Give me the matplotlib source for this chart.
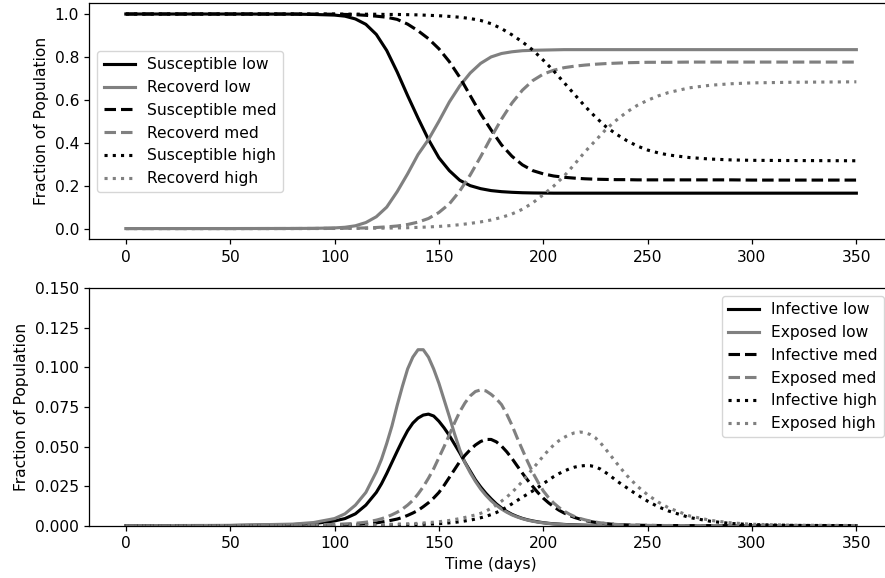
import matplotlib
matplotlib.use("Agg")
import matplotlib.pyplot as plt

# time grid (days) for the top panel
days = [0, 50, 80, 90,
        100, 105, 110, 115, 120, 125, 130, 135, 140, 145,
        150, 155, 160, 165, 170, 175, 180, 185, 190, 195,
        200, 205, 210, 215, 220, 225, 230, 235, 240, 245,
        250, 255, 260,
        270, 280, 290, 300, 320, 350]

# top panel: susceptible / recovered
sus_low = [1.0, 1.0, 0.9995, 0.998,
           0.995, 0.99, 0.977, 0.952, 0.905, 0.83, 0.73, 0.62, 0.515, 0.415,
           0.33, 0.27, 0.225, 0.20, 0.186, 0.177, 0.172, 0.169, 0.167, 0.166,
           0.1655, 0.165, 0.165, 0.165, 0.165, 0.165, 0.165, 0.165, 0.165, 0.165,
           0.165, 0.165, 0.165,
           0.165, 0.165, 0.165, 0.165, 0.165, 0.165]
rec_low = [0.0, 0.0001, 0.0005, 0.001,
           0.003, 0.006, 0.013, 0.028, 0.055, 0.10, 0.172, 0.255, 0.345, 0.415,
           0.50, 0.59, 0.665, 0.725, 0.77, 0.80, 0.816, 0.824, 0.829, 0.831,
           0.832, 0.833, 0.834, 0.834, 0.834, 0.834, 0.834, 0.834, 0.834, 0.834,
           0.834, 0.834, 0.834,
           0.834, 0.834, 0.834, 0.834, 0.834, 0.834]
sus_med = [1.0, 1.0, 1.0, 0.9995,
           0.999, 0.998, 0.997, 0.994, 0.99, 0.985, 0.975, 0.953, 0.922, 0.885,
           0.838, 0.778, 0.705, 0.62, 0.535, 0.46, 0.39, 0.337, 0.297, 0.27,
           0.255, 0.245, 0.239, 0.235, 0.232, 0.23, 0.229, 0.228, 0.228, 0.227,
           0.227, 0.227, 0.227,
           0.227, 0.227, 0.227, 0.226, 0.226, 0.226]
rec_med = [0.0, 0.0, 0.0002, 0.0004,
           0.001, 0.0015, 0.002, 0.003, 0.005, 0.008, 0.012, 0.019, 0.03, 0.047,
           0.075, 0.115, 0.175, 0.25, 0.335, 0.425, 0.51, 0.585, 0.645, 0.69,
           0.72, 0.738, 0.75, 0.757, 0.762, 0.766, 0.769, 0.771, 0.773, 0.774,
           0.775, 0.775, 0.775,
           0.776, 0.776, 0.776, 0.776, 0.776, 0.776]
sus_high = [1.0, 1.0, 1.0, 1.0,
            1.0, 0.9995, 0.9995, 0.999, 0.999, 0.998, 0.998, 0.997, 0.996, 0.994,
            0.992, 0.989, 0.985, 0.979, 0.97, 0.955, 0.932, 0.903, 0.87, 0.832,
            0.785, 0.735, 0.68, 0.625, 0.57, 0.52, 0.475, 0.44, 0.41, 0.385,
            0.366, 0.353, 0.343,
            0.331, 0.324, 0.32, 0.318, 0.317, 0.316]
rec_high = [0.0, 0.0, 0.0001, 0.0002,
            0.0005, 0.0007, 0.001, 0.0013, 0.0017, 0.0022, 0.003, 0.004, 0.0055, 0.0075,
            0.01, 0.0135, 0.018, 0.024, 0.031, 0.04, 0.052, 0.068, 0.09, 0.12,
            0.158, 0.198, 0.245, 0.30, 0.358, 0.41, 0.462, 0.505, 0.543, 0.574,
            0.598, 0.618, 0.634,
            0.656, 0.668, 0.675, 0.679, 0.682, 0.684]

# bottom panel uses a finer grid around the peaks
days_b = [0, 50, 80, 90, 100, 105, 110, 115,
          120, 122.5, 125, 127.5, 130, 132.5, 135, 137.5, 140, 142.5,
          145, 147.5, 150, 152.5, 155, 157.5, 160, 162.5, 165, 167.5,
          170, 172.5, 175, 177.5, 180, 182.5, 185, 187.5, 190, 192.5,
          195, 197.5, 200, 202.5, 205, 207.5, 210, 212.5, 215, 217.5,
          220, 222.5, 225, 227.5, 230, 232.5, 235, 237.5, 240,
          245, 250, 255, 260, 270, 280, 290, 300, 320, 350]

inf_low = [0.0, 0.0001, 0.0007, 0.0013, 0.003, 0.0045, 0.0075, 0.013,
           0.021, 0.0265, 0.033, 0.040, 0.047, 0.0538, 0.060, 0.0648, 0.068, 0.0699,
           0.0705, 0.0693, 0.066, 0.0618, 0.057, 0.0515, 0.046, 0.040, 0.0345, 0.029,
           0.0245, 0.0205, 0.017, 0.0138, 0.0112, 0.009, 0.0072, 0.0058, 0.0046, 0.0037,
           0.003, 0.0024, 0.0019, 0.0015, 0.0012, 0.001, 0.0008, 0.0006, 0.0005, 0.0004,
           0.0003, 0.0002, 0.0002, 0.0001, 0.0001, 0.0001, 0.0, 0.0, 0.0,
           0.0, 0.0, 0.0, 0.0, 0.0, 0.0, 0.0, 0.0, 0.0, 0.0]
exp_low = [0.0, 0.0002, 0.001, 0.002, 0.0045, 0.0075, 0.013, 0.021,
           0.034, 0.042, 0.052, 0.063, 0.076, 0.088, 0.099, 0.1065, 0.1112, 0.1112,
           0.1065, 0.099, 0.09, 0.0795, 0.069, 0.058, 0.048, 0.0398, 0.0335, 0.028,
           0.0232, 0.0192, 0.0158, 0.0129, 0.0105, 0.0085, 0.0068, 0.0055, 0.0044, 0.0035,
           0.0028, 0.0022, 0.0018, 0.0014, 0.0011, 0.0009, 0.0007, 0.0005, 0.0004, 0.0003,
           0.0003, 0.0002, 0.0002, 0.0001, 0.0001, 0.0001, 0.0, 0.0, 0.0,
           0.0, 0.0, 0.0, 0.0, 0.0, 0.0, 0.0, 0.0, 0.0, 0.0]
inf_med = [0.0, 0.0, 0.0001, 0.0002, 0.0004, 0.0006, 0.0008, 0.0012,
           0.0018, 0.0023, 0.0028, 0.0035, 0.0042, 0.0052, 0.0065, 0.008, 0.0097, 0.012,
           0.0145, 0.0175, 0.021, 0.0255, 0.0305, 0.0355, 0.0405, 0.0445, 0.048, 0.051,
           0.0532, 0.0545, 0.0545, 0.053, 0.0503, 0.0467, 0.0425, 0.0378, 0.0332, 0.0288,
           0.0247, 0.0208, 0.0174, 0.0145, 0.012, 0.0098, 0.008, 0.0065, 0.0052, 0.0042,
           0.0033, 0.0026, 0.0021, 0.0016, 0.0013, 0.001, 0.0008, 0.0006, 0.0005,
           0.0003, 0.0002, 0.0001, 0.0001, 0.0, 0.0, 0.0, 0.0, 0.0, 0.0]
exp_med = [0.0, 0.0, 0.0003, 0.0005, 0.0008, 0.0011, 0.0015, 0.0022,
           0.0035, 0.0044, 0.0055, 0.0069, 0.0085, 0.0105, 0.013, 0.016, 0.020, 0.0246,
           0.030, 0.036, 0.043, 0.050, 0.0575, 0.065, 0.072, 0.0776, 0.082, 0.0848,
           0.0858, 0.0852, 0.083, 0.0802, 0.0765, 0.0705, 0.0635, 0.0555, 0.048, 0.0405,
           0.0335, 0.0275, 0.022, 0.0178, 0.0143, 0.0115, 0.0092, 0.0073, 0.0058, 0.0046,
           0.0037, 0.0029, 0.0023, 0.0018, 0.0014, 0.0011, 0.0008, 0.0006, 0.0005,
           0.0003, 0.0002, 0.0001, 0.0001, 0.0, 0.0, 0.0, 0.0, 0.0, 0.0]
inf_high = [0.0, 0.0, 0.0, 0.0001, 0.0001, 0.0002, 0.0002, 0.0003,
            0.0003, 0.0004, 0.0004, 0.0005, 0.0005, 0.0006, 0.0006, 0.0007, 0.0008, 0.0009,
            0.001, 0.0011, 0.0013, 0.0015, 0.0018, 0.0021, 0.0025, 0.003, 0.0035, 0.0042,
            0.005, 0.0059, 0.007, 0.0083, 0.0099, 0.0117, 0.0138, 0.0159, 0.018, 0.020,
            0.022, 0.0242, 0.0265, 0.0288, 0.031, 0.0329, 0.0345, 0.0359, 0.037, 0.0377,
            0.038, 0.0379, 0.0372, 0.0357, 0.0335, 0.0311, 0.0285, 0.0262, 0.024,
            0.0195, 0.0155, 0.012, 0.0093, 0.0052, 0.0028, 0.0014, 0.0007, 0.0002, 0.0]
exp_high = [0.0, 0.0, 0.0001, 0.0001, 0.0002, 0.0003, 0.0004, 0.0005,
            0.0006, 0.0007, 0.0008, 0.0009, 0.001, 0.0011, 0.0012, 0.0013, 0.0015, 0.0017,
            0.002, 0.0022, 0.0025, 0.0029, 0.0033, 0.0039, 0.0045, 0.0052, 0.006, 0.0068,
            0.0078, 0.0092, 0.011, 0.0131, 0.0155, 0.0181, 0.021, 0.0244, 0.028, 0.032,
            0.036, 0.040, 0.044, 0.0477, 0.051, 0.0537, 0.0558, 0.0575, 0.0587, 0.0592,
            0.0588, 0.0576, 0.0555, 0.0522, 0.0482, 0.044, 0.0398, 0.0357, 0.0318,
            0.025, 0.0195, 0.015, 0.0113, 0.0062, 0.0034, 0.0018, 0.0009, 0.0003, 0.0001]

# original looks like a default-style figure scaled up a little
plt.rcParams['font.size'] = 11.2
plt.rcParams['lines.linewidth'] = 2.24
plt.rcParams['axes.linewidth'] = 0.9
plt.rcParams['xtick.major.size'] = 3.9
plt.rcParams['ytick.major.size'] = 3.9
plt.rcParams['xtick.major.width'] = 0.9
plt.rcParams['ytick.major.width'] = 0.9

fig = plt.figure(figsize=(8.85, 5.78), dpi=100)

# axes run slightly past the right edge, like the cropped original
ax1 = fig.add_axes([0.1009, 0.586, 0.908, 0.4083])
ax2 = fig.add_axes([0.1009, 0.0905, 0.908, 0.4107])

# top panel
ax1.plot(days, sus_low, color='k', ls='-', label='Susceptible low')
ax1.plot(days, rec_low, color='gray', ls='-', label='Recoverd low')
ax1.plot(days, sus_med, color='k', ls='--', label='Susceptible med')
ax1.plot(days, rec_med, color='gray', ls='--', label='Recoverd med')
ax1.plot(days, sus_high, color='k', ls=':', label='Susceptible high')
ax1.plot(days, rec_high, color='gray', ls=':', label='Recoverd high')
ax1.set_xlim(-17.5, 367.5)
ax1.set_ylim(-0.05, 1.05)
ax1.set_xticks(range(0, 351, 50))
ax1.set_ylabel('Fraction of Population')
ax1.legend(loc='center left', bbox_to_anchor=(97.3 / 885, 1 - 121.8 / 578),
           bbox_transform=fig.transFigure, borderaxespad=0)

# bottom panel
ax2.plot(days_b, inf_low, color='k', ls='-', label='Infective low')
ax2.plot(days_b, exp_low, color='gray', ls='-', label='Exposed low')
ax2.plot(days_b, inf_med, color='k', ls='--', label='Infective med')
ax2.plot(days_b, exp_med, color='gray', ls='--', label='Exposed med')
ax2.plot(days_b, inf_high, color='k', ls=':', label='Infective high')
ax2.plot(days_b, exp_high, color='gray', ls=':', label='Exposed high')
ax2.set_xlim(-17.5, 367.5)
ax2.set_ylim(0, 0.15)
ax2.set_xticks(range(0, 351, 50))
ax2.set_yticks([0, 0.025, 0.05, 0.075, 0.1, 0.125, 0.15])
ax2.set_yticklabels(['0.000', '0.025', '0.050', '0.075', '0.100', '0.125', '0.150'])
ax2.set_xlabel('Time (days)')
ax2.set_ylabel('Fraction of Population')
ax2.legend(loc='upper right', bbox_to_anchor=(884 / 885, 1 - 296 / 578),
           bbox_transform=fig.transFigure, borderaxespad=0)

fig.savefig('out.png', dpi=100)
